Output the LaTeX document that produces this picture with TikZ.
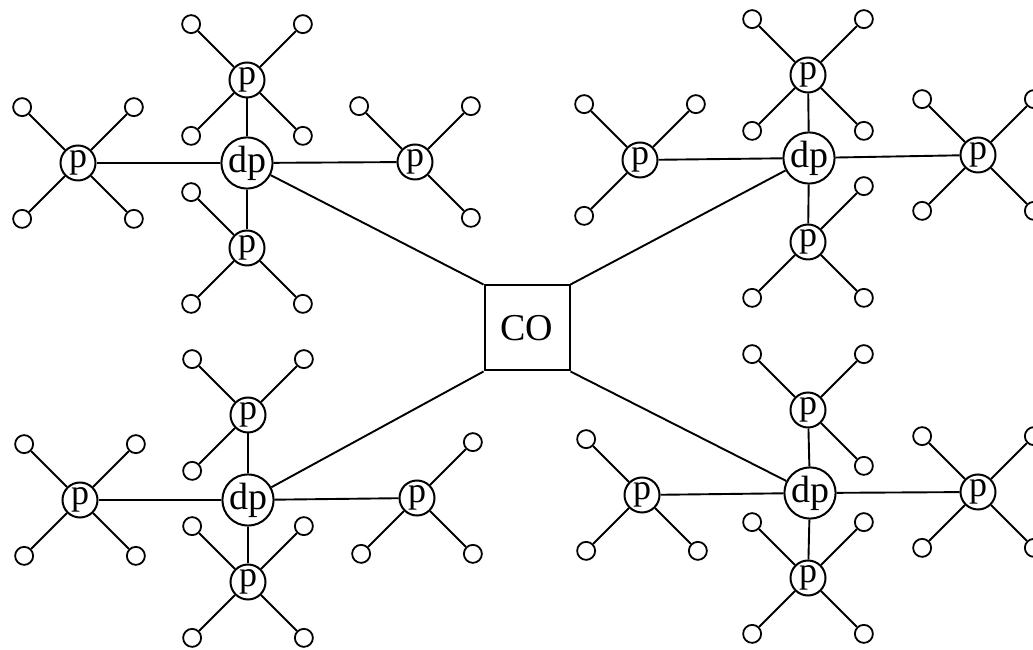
\documentclass[tikz,border=0pt]{standalone}
\usepackage{fontspec}
\setmainfont{Liberation Serif}
\usepackage{tikz}
\tikzstyle{office} = [
    rectangle,
    draw,
    line width=2pt,
    minimum size=85pt,
    inner sep=0pt,
    font=\fontsize{38}{38}\selectfont
]
\tikzstyle{dpnode} = [
    circle,
    draw,
    line width=2pt,
    minimum size=51pt,
    inner sep=0pt,
    font=\fontsize{38}{38}\selectfont
]
\tikzstyle{pnode} = [
    circle,
    draw,
    line width=2pt,
    minimum size=35pt,
    inner sep=0pt,
    font=\fontsize{36}{36}\selectfont
]
\tikzstyle{leaf} = [
    circle,
    draw,
    line width=1.8pt,
    minimum size=18pt,
    inner sep=0pt
]
\tikzstyle{link} = [
    line width=1.9pt
]

\begin{document}
\begin{tikzpicture}[x=1pt, y=1pt]
    \useasboundingbox (0,0) rectangle (1033,650);

    % central office
    \node[office] (co) at (527,322) {CO};

    % upper left cluster
    \node[dpnode] (dpA) at (247,487) {dp};
    \node[pnode] (pAt) at (247,570) {p};
    \node[pnode] (pAb) at (247,402) {p};
    \node[pnode] (pAl) at (78,487) {p};
    \node[pnode] (pAr) at (415,488) {p};

    % upper right cluster
    \node[dpnode] (dpB) at (809,492) {dp};
    \node[pnode] (pBt) at (808,575) {p};
    \node[pnode] (pBb) at (808,408) {p};
    \node[pnode] (pBl) at (640,490) {p};
    \node[pnode] (pBr) at (978,495) {p};

    % lower left cluster
    \node[dpnode] (dpC) at (248,150) {dp};
    \node[pnode] (pCt) at (248,235) {p};
    \node[pnode] (pCb) at (248,68) {p};
    \node[pnode] (pCl) at (80,150) {p};
    \node[pnode] (pCr) at (417,152) {p};

    % lower right cluster
    \node[dpnode] (dpD) at (810,157) {dp};
    \node[pnode] (pDt) at (808,240) {p};
    \node[pnode] (pDb) at (808,72) {p};
    \node[pnode] (pDl) at (642,155) {p};
    \node[pnode] (pDr) at (978,158) {p};

    % links to the central office
    \draw[link] (co.north west) -- (dpA);
    \draw[link] (co.north east) -- (dpB);
    \draw[link] (co.south west) -- (dpC);
    \draw[link] (co.south east) -- (dpD);

    % links dp -- p
    \foreach \d in {A,B,C,D} {
        \draw[link] (dp\d) -- (p\d t);
        \draw[link] (dp\d) -- (p\d b);
        \draw[link] (dp\d) -- (p\d l);
        \draw[link] (dp\d) -- (p\d r);
    }

    % leaves round each p
    \foreach \n/\dirs in {
        pAt/{45,135,225,315}, pAl/{45,135,225,315},
        pAr/{45,135,315}, pAb/{135,225,315},
        pBt/{45,135,225,315}, pBr/{45,135,225,315},
        pBl/{45,135,225}, pBb/{45,225,315},
        pCb/{45,135,225,315}, pCl/{45,135,225,315},
        pCt/{45,135,225}, pCr/{45,225,315},
        pDb/{45,135,225,315}, pDr/{45,135,225,315},
        pDt/{45,135,315}, pDl/{135,225,315}} {
        \foreach \a in \dirs {
            \node[leaf] (\n-\a) at ([shift={(\a:79)}]\n) {};
            \draw[link] (\n) -- (\n-\a);
        }
    }
\end{tikzpicture}
\end{document}
